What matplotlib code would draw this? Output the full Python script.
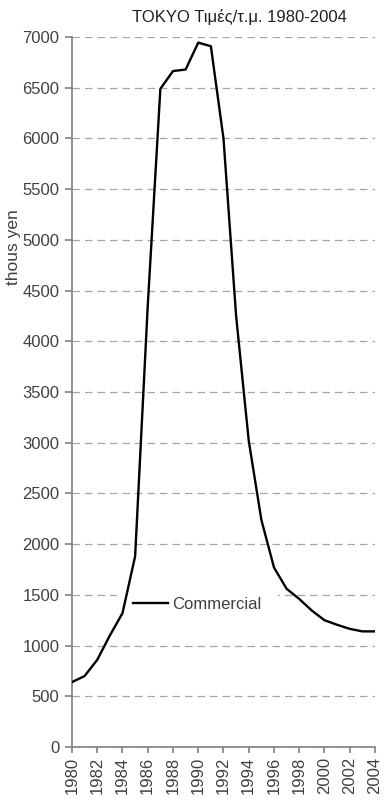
import matplotlib.pyplot as plt
import numpy as np

plt.rcParams['font.family'] = ['Liberation Sans', 'DejaVu Sans']

# Tokyo commercial land price, thous yen per m2
years = list(range(1980, 2005))
commercial = [640, 700, 860, 1100, 1320, 1880, 4350, 6490, 6665, 6680,
              6945, 6910, 6000, 4250, 3020, 2240, 1770, 1560, 1460, 1345,
              1250, 1205, 1165, 1140, 1140]
title = 'TOKYO Τιμές/τ.μ. 1980-2004'

fig = plt.figure(figsize=(3.84, 8.06), dpi=100)
ax = fig.add_axes([0.1875, 0.0732, 0.789, 0.8808])

grid_c = '#a6a6a6'
axis_c = '#808080'
text_c = '#404040'

ax.plot(years, commercial, color='black', lw=1.7, label='Commercial', zorder=4)

ax.set_xlim(1980, 2004)
ax.set_ylim(0, 7000)
ax.set_yticks(np.arange(0, 7001, 500))
ax.set_xticks(range(1980, 2005, 2))
ax.set_xticklabels([str(y) for y in range(1980, 2005, 2)], rotation=90)

ax.yaxis.grid(True, color=grid_c, ls=(0, (6, 4)), lw=0.9, zorder=0.5)
ax.set_axisbelow(True)

for s in ['top', 'right']:
    ax.spines[s].set_visible(False)
for s in ['left', 'bottom']:
    ax.spines[s].set_color(axis_c)
    ax.spines[s].set_linewidth(1.2)
ax.tick_params(axis='both', colors=axis_c, labelcolor=text_c, labelsize=12,
               width=1.2)
ax.tick_params(axis='y', length=5, pad=4)
ax.tick_params(axis='x', length=4, pad=3)

ax.set_title(title, fontsize=12, color='#202020', pad=11, x=0.551)
ax.set_ylabel('thous yen', fontsize=12.5, color=text_c)
ax.yaxis.set_label_coords(-0.168, 0.704)

leg = ax.legend(loc='center', bbox_to_anchor=(0.414, 0.2014), fontsize=12,
                handlelength=2.1, handletextpad=0.25, borderpad=1.0,
                frameon=True, fancybox=False, borderaxespad=0)
leg.get_frame().set_edgecolor('none')
leg.get_frame().set_facecolor('white')
leg.get_frame().set_alpha(1)
leg.set_zorder(2)
for t in leg.get_texts():
    t.set_color(text_c)

fig.savefig('out.png', dpi=100)
